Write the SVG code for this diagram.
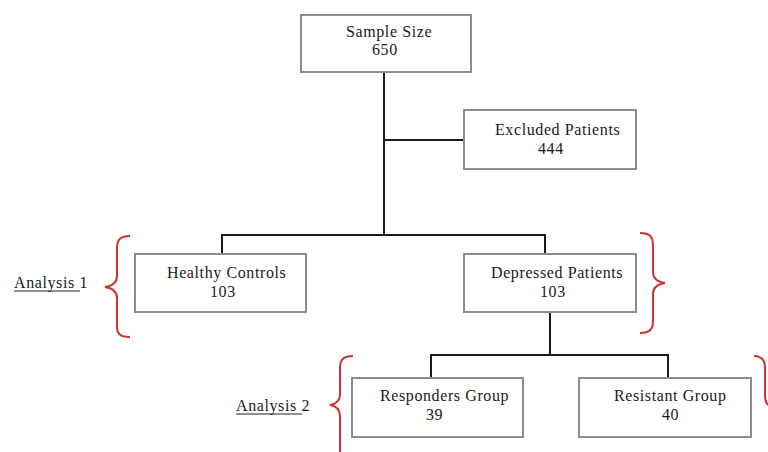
<svg xmlns="http://www.w3.org/2000/svg" width="768" height="452" viewBox="0 0 768 452">
<style>
.box{fill:#fff;stroke:#8a8c8e;stroke-width:2}
.t{font-family:"Liberation Serif","DejaVu Serif",serif;font-size:16px;fill:#1a1a1a;letter-spacing:0.6px}
.c{fill:none;stroke:#1a1a1a;stroke-width:2}
.br{fill:none;stroke:#cc3333;stroke-width:2}
</style>
<rect width="768" height="452" fill="#fff"/>
<g id="connectors">
<path class="c" d="M384 72V235M384 140H464M222 255V235H545V255M550 312V355M431 378V355H668V378"/>
</g>
<g id="sample">
<rect class="box" x="301" y="15" width="170" height="57"/>
<text class="t" x="346" y="37">Sample Size</text>
<text class="t" x="372" y="55">650</text>
</g>
<g id="excluded">
<rect class="box" x="464" y="110" width="172" height="59"/>
<text class="t" x="495" y="135">Excluded Patients</text>
<text class="t" x="538" y="154">444</text>
</g>
<g id="healthy">
<rect class="box" x="135" y="254" width="171" height="58"/>
<text class="t" x="167" y="278">Healthy Controls</text>
<text class="t" x="210" y="297">103</text>
</g>
<g id="depressed">
<rect class="box" x="464" y="254" width="172" height="58"/>
<text class="t" x="491" y="278">Depressed Patients</text>
<text class="t" x="540" y="297">103</text>
</g>
<g id="responders">
<rect class="box" x="352" y="378" width="171" height="59"/>
<text class="t" x="380" y="401">Responders Group</text>
<text class="t" x="426" y="420">39</text>
</g>
<g id="resistant">
<rect class="box" x="579" y="378" width="172" height="59"/>
<text class="t" x="614" y="401">Resistant Group</text>
<text class="t" x="662" y="420">40</text>
</g>
<g id="analysis1">
<text class="t" x="14" y="288">Analysis 1</text>
<line x1="14" y1="291" x2="80" y2="291" stroke="#222" stroke-width="1"/>
<path class="br" d="M130 236C120 236 117 240 117 248V276C117 283 112 286 105 287C112 288 117 291 117 298V326C117 334 120 337 130 337"/>
<path class="br" d="M640 233C650 233 653 237 653 245V272C653 279 658 282 665 283C658 284 653 287 653 294V321C653 329 650 333 640 333"/>
</g>
<g id="analysis2">
<text class="t" x="236" y="411">Analysis 2</text>
<line x1="236" y1="414" x2="302" y2="414" stroke="#222" stroke-width="1"/>
<path class="br" d="M353 356C343 356 340 360 340 368V394C340 401 336 404 330 405C336 406 340 409 340 416V452"/>
<path class="br" d="M754 356C762 356 765 360 765 368V396C765 401 767 404 768 405"/>
</g>
</svg>
